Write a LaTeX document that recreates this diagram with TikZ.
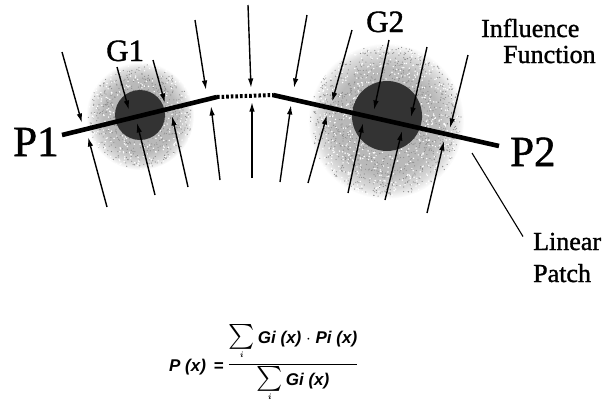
\documentclass[tikz,border=0pt]{standalone}
\usepackage{fontspec}
\usepackage{amsmath}
\newfontfamily\lblfont{Liberation Serif}[FakeBold=1.2]
\newfontfamily\ffont{Liberation Sans}[ItalicFont={* Bold Italic},UprightFont={* Bold Italic}]
\usetikzlibrary{arrows.meta,calc}
\begin{document}
\begin{tikzpicture}[x=1pt,y=-1pt,
  arr/.style={line width=1.4pt,-{Latex[length=9.5pt,width=5.5pt]}},
  patchline/.style={line width=4.6pt},
  gapline/.style={line width=4pt,dash pattern=on 2.6pt off 2pt},
  lbl/.style={inner sep=0pt,anchor=base west},
  leader/.style={line width=1.1pt}]
\useasboundingbox (0,0) rectangle (608,402);
% halos
\pgfdeclareradialshading{halo}{\pgfpoint{0bp}{0bp}}{color(0bp)=(black!30); color(17bp)=(black!27); color(22bp)=(black!14); color(25bp)=(white); color(50bp)=(white)}
\shade[shading=halo] (140,116) circle (54pt);
\shade[shading=halo] (386,121) circle (78pt);
\pgfmathsetseed{7}
\foreach \k in {1,...,650}{
  \pgfmathsetmacro\rr{52*(rnd)^0.62}
  \pgfmathsetmacro\aa{360*rnd}
  \fill[black!45] ($(140,116)+(\aa:\rr pt)$) circle (0.6pt);
}
\foreach \k in {1,...,1400}{
  \pgfmathsetmacro\rr{76*(rnd)^0.62}
  \pgfmathsetmacro\aa{360*rnd}
  \fill[black!45] ($(386,121)+(\aa:\rr pt)$) circle (0.6pt);
}
\foreach \k in {1,...,700}{
  \pgfmathsetmacro\rr{78*sqrt(rnd)}
  \pgfmathsetmacro\aa{360*rnd}
  \fill[white] ($(386,121)+(\aa:\rr pt)$) circle (0.8pt);
}
\foreach \k in {1,...,330}{
  \pgfmathsetmacro\rr{54*sqrt(rnd)}
  \pgfmathsetmacro\aa{360*rnd}
  \fill[white] ($(140,116)+(\aa:\rr pt)$) circle (0.8pt);
}
% dark cores
\fill[black!80] (140,115) circle (25pt);
\fill[black!80] (387,116) circle (35pt);
% linear patches
\coordinate (A) at (62,135);
\coordinate (B) at (217,97);
\coordinate (C) at (273,95);
\coordinate (D) at (499,146);
\draw[patchline] (A) -- (B);
\draw[gapline] (B) -- (C);
\draw[patchline] (C) -- (D);
% influence arrows (top, bottom)
\foreach \sx/\sy/\tx/\ty in {
  62/52/82/123, 107/207/88/137,
  117/67/129/110, 155/195/137/123,
  153/60/165/103, 188/187/172/116,
  195/20/206/90, 220/180/211/106,
  248/5/251/88, 252/178/252/102,
  307/15/294/88, 280/182/291/105,
  352/30/332/102, 308/183/327/115,
  389/40/374/110, 348/193/363/123,
  427/47/411/117, 385/200/402/131,
  468/55/450/128, 427/213/444/141}
  \draw[arr] (\sx,\sy) -- (\tx,\ty);
% labels
\node[lbl,font=\lblfont\fontsize{43}{43}\selectfont] (p1) at (13,156) {P1};
\node[lbl,font=\lblfont\fontsize{43}{43}\selectfont] (p2) at (510,166) {P2};
\node[lbl,font=\lblfont\fontsize{31}{31}\selectfont] (g1) at (106,61) {G1};
\node[lbl,font=\lblfont\fontsize{31}{31}\selectfont] (g2) at (366,32) {G2};
\node[lbl,font=\lblfont\fontsize{26}{26}\selectfont] (inf) at (481,37) {Influence};
\node[lbl,font=\lblfont\fontsize{26}{26}\selectfont] (fun) at (503,63) {Function};
\node[lbl,font=\lblfont\fontsize{26}{26}\selectfont] (lin) at (533,250) {Linear};
\node[lbl,font=\lblfont\fontsize{26}{26}\selectfont] (pat) at (533,282) {Patch};
\coordinate (L1) at (472,153);
\draw[leader] (L1) -- ($(lin.west)+(-10,-5)$);
% formula
\newcommand{\bigsum}{\mathop{\hbox{\fontsize{23}{23}\selectfont$\textstyle\sum$}}\limits_{\raisebox{2pt}{$\scriptscriptstyle\boldsymbol{i}$}}}
\node[lbl,font=\ffont\fontsize{17}{19}\selectfont] (px) at (169,371) {P (x) \,=};
\node[inner sep=0pt,anchor=center,font=\fontsize{17}{19}\selectfont] (frac) at (293,364)
  {$\dfrac{\bigsum\text{\ffont Gi (x) $\cdot$ Pi (x)}}{\bigsum\text{\ffont Gi (x)}}$};
\end{tikzpicture}
\end{document}
